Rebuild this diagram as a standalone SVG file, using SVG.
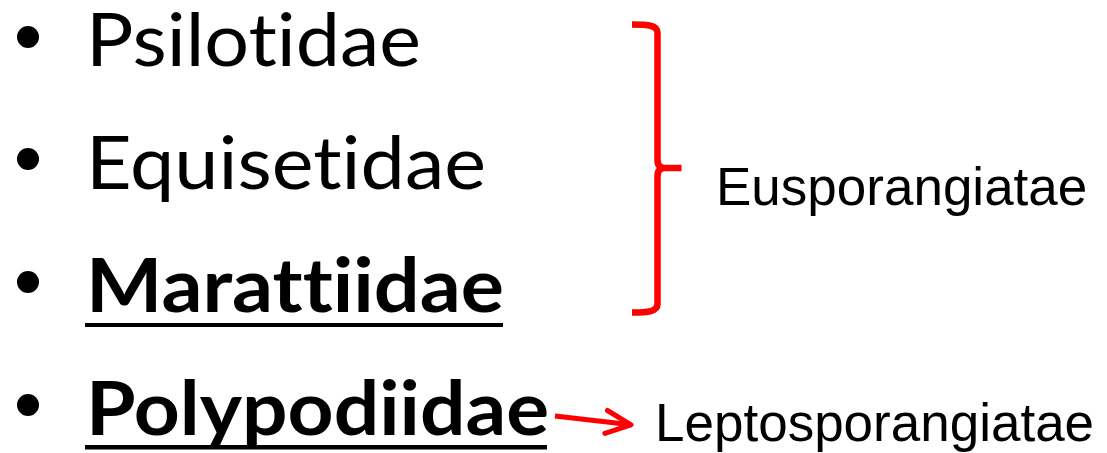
<svg xmlns="http://www.w3.org/2000/svg" width="1107" height="453" viewBox="0 0 1107 453">
  <style>
    .item { font-family: Lato, "Open Sans", "Liberation Sans", sans-serif; font-size: 74px; fill: #000; font-variant-ligatures: none; font-feature-settings: "liga" 0, "clig" 0, "dlig" 0; }
    .bold { font-weight: bold; }
    .label { font-family: "Liberation Sans", Arial, sans-serif; font-size: 53px; fill: #000; }
    .bullet { fill: #000; }
    .uline { fill: #000; }
    .red { fill: none; stroke: #FF0000; stroke-width: 6.5; }
  </style>
  <defs>
    <marker id="chev" viewBox="-30 -16 36 32" markerWidth="36" markerHeight="32" refX="0" refY="0" orient="auto" markerUnits="userSpaceOnUse" overflow="visible">
      <path d="M-25,-11.5 L0,0 L-25,11.5" fill="none" stroke="#FF0000" stroke-width="5" stroke-linecap="round" stroke-linejoin="round"/>
    </marker>
  </defs>
  <rect width="1107" height="453" fill="#fff"/>

  <g id="psilotidae">
    <circle class="bullet" cx="28" cy="37" r="11"/>
    <text class="item" x="86" y="66" textLength="335" lengthAdjust="spacingAndGlyphs">Psilotidae</text>
  </g>
  <g id="equisetidae">
    <circle class="bullet" cx="28" cy="159" r="11"/>
    <text class="item" x="86" y="189" textLength="400" lengthAdjust="spacingAndGlyphs">Equisetidae</text>
  </g>
  <g id="marattiidae">
    <circle class="bullet" cx="28" cy="282" r="11"/>
    <text class="item bold" x="86" y="312" textLength="418" lengthAdjust="spacingAndGlyphs">Marattiidae</text>
    <rect class="uline" x="85" y="323" width="418" height="4"/>
  </g>
  <g id="polypodiidae">
    <circle class="bullet" cx="28" cy="405" r="11"/>
    <text class="item bold" x="86" y="435" textLength="463" lengthAdjust="spacingAndGlyphs">Polypodiidae</text>
    <rect class="uline" x="85" y="445" width="462" height="4.5"/>
  </g>
  <g id="eusporangiatae">
    <text class="label" x="716" y="205">Eusporangiatae</text>
  </g>
  <g id="leptosporangiatae">
    <text class="label" x="655" y="441">Leptosporangiatae</text>
  </g>

  <g id="connectors">
    <path class="red" d="M632,24.5 C648,24.5 657.5,25 657.5,33 L657.5,160 C657.5,165.5 660,168 665,168 L681.5,168 M665,168 C660,168 657.5,170.5 657.5,176 L657.5,304 C657.5,311.5 648,312.5 632,312.5"/>
    <line x1="555" y1="416" x2="631" y2="424.8" stroke="#FF0000" stroke-width="5" marker-end="url(#chev)"/>
  </g>
</svg>
